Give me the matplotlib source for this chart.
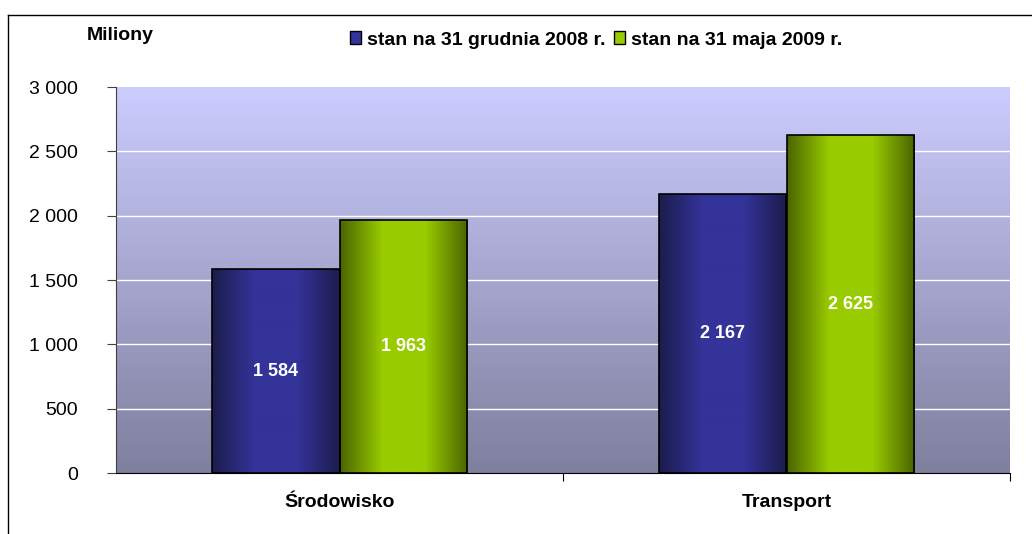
import numpy as np
import matplotlib.pyplot as plt
from matplotlib.colors import LinearSegmentedColormap
from matplotlib.patches import Rectangle
from matplotlib.lines import Line2D

categories = ["Środowisko", "Transport"]
series_names = ["stan na 31 grudnia 2008 r.", "stan na 31 maja 2009 r."]
values_2008 = [1584, 2167]
values_2009 = [1963, 2625]
yticks = [0, 500, 1000, 1500, 2000, 2500, 3000]

plt.rcParams['font.family'] = ['Liberation Sans', 'DejaVu Sans']

fig = plt.figure(figsize=(10.32, 5.34), dpi=100)
ax = fig.add_axes([116 / 1032, 1 - 473 / 534, (1010 - 116) / 1032, (473 - 87) / 534])

# background gradient of the plot area
bg = LinearSegmentedColormap.from_list("bg", ["#7f7f9e", "#ccccff"])
ax.imshow(np.linspace(0, 1, 256).reshape(-1, 1), cmap=bg, aspect="auto",
          extent=[-0.5, 1.5, 0, 3000], origin="lower", zorder=0)

for t in yticks[1:-1]:
    ax.axhline(t, color="white", lw=1, zorder=1)

blue = LinearSegmentedColormap.from_list("b", ["#1c1c4c", "#333399", "#333399", "#1c1c4c"])
green = LinearSegmentedColormap.from_list("g", ["#4a6400", "#99cc00", "#99cc00", "#4a6400"])
grad = np.linspace(0, 1, 256).reshape(1, -1)

x = np.arange(len(categories))
w = 0.286
for vals, cmap, off in [(values_2008, blue, -w / 2), (values_2009, green, w / 2)]:
    for xi, v in zip(x, vals):
        x0 = xi + off - w / 2
        im = ax.imshow(grad, cmap=cmap, aspect="auto",
                       extent=[x0, x0 + w, 0, v], zorder=2)
        r = Rectangle((x0, 0), w, v, fill=False, ec="black", lw=1.2, zorder=3)
        ax.add_patch(r)
        im.set_clip_path(r)
        ax.text(xi + off, v / 2, f"{v:,}".replace(",", " "), ha="center", va="center",
                color="white", fontsize=13, fontweight="bold", zorder=4)

ax.set_xlim(-0.5, 1.5)
ax.set_ylim(0, 3000)
ax.set_yticks(yticks, labels=[f"{t:,}".replace(",", " ") for t in yticks])
ax.tick_params(axis="y", direction="out", length=6.5, labelsize=14, pad=21, color="#404040")
ax.set_xticks([0.5, 1.5])
ax.set_xticks(x, labels=categories, minor=True)
ax.tick_params(axis="x", which="major", direction="out", length=6, labelbottom=False)
ax.tick_params(axis="x", which="minor", length=0, labelsize=14, pad=15)
for lbl in ax.get_xticklabels(minor=True):
    lbl.set_fontweight("bold")
ax.spines["top"].set_visible(False)
ax.spines["right"].set_visible(False)
ax.spines["left"].set_color("#404040")

fig.text(120 / 1032, 1 - 35 / 534, "Miliony", ha="center", va="center",
         fontsize=14, fontweight="bold")

handles = [Rectangle((0, 0), 1, 1, fc="#333399", ec="black"),
           Rectangle((0, 0), 1, 1, fc="#99cc00", ec="black")]
fig.legend(handles, series_names, loc="center", bbox_to_anchor=(596 / 1032, 1 - 40 / 534),
           ncol=2, frameon=False, prop={"weight": "bold", "size": 14},
           handlelength=0.6, handleheight=0.6, handletextpad=0.3, columnspacing=0.4)

# chart frame
fig.add_artist(Line2D([8 / 1032, 1], [1 - 15 / 534] * 2, color="black", lw=1))
fig.add_artist(Line2D([8 / 1032] * 2, [0, 1 - 15 / 534], color="black", lw=1))

fig.savefig("out.png", dpi=100)
